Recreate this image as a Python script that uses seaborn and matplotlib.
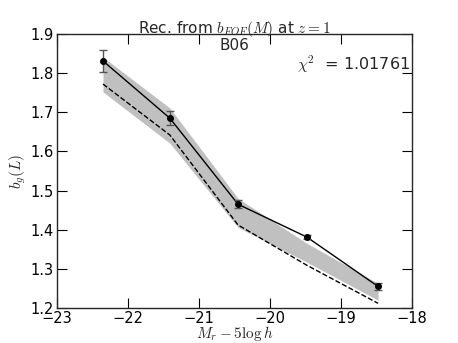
import numpy as np
import pandas as pd
import matplotlib
matplotlib.use('Agg')
import matplotlib.pyplot as plt
import seaborn as sns

# magnitude bins
mag = [-22.35, -21.41, -20.45, -19.48, -18.48]
# measured bias with errors
bias = [1.831, 1.685, 1.465, 1.381, 1.255]
bias_err = [0.027, 0.017, 0.010, 0.006, 0.008]
# reconstructed bias (dashed)
recon = [1.772, 1.642, 1.412, 1.309, 1.212]
# band edges
band_lo = [1.752, 1.621, 1.406, 1.317, 1.220]
band_hi = [1.841, 1.711, 1.480, 1.365, 1.263]

sns.set_style('ticks')
plt.rcParams['xtick.direction'] = 'in'
plt.rcParams['ytick.direction'] = 'in'
plt.rcParams['xtick.major.size'] = 7
plt.rcParams['ytick.major.size'] = 7
plt.rcParams['axes.linewidth'] = 1.0
plt.rcParams['mathtext.fontset'] = 'cm'

fig = plt.figure(figsize=(4.58, 3.43), dpi=100)
ax = fig.add_axes([0.124, 0.102, 0.776, 0.799])

df = pd.DataFrame({'mag': mag, 'bias': bias, 'recon': recon})

ax.fill_between(mag, band_lo, band_hi, color='#c0c0c0', lw=0)
sns.lineplot(data=df, x='mag', y='recon', ax=ax, color='black', lw=1, linestyle='--')
sns.lineplot(data=df, x='mag', y='bias', ax=ax, color='black', lw=1)
ax.errorbar(mag, bias, yerr=bias_err, fmt='o', color='black', ms=4,
            ecolor='#555555', capsize=3, elinewidth=1)

ax.set_xlim(-23, -18)
ax.set_ylim(1.2, 1.9)
ax.set_xticks([-23, -22, -21, -20, -19, -18])
ax.set_yticks([1.2, 1.3, 1.4, 1.5, 1.6, 1.7, 1.8, 1.9])
ax.tick_params(labelsize=10.5, top=True, right=True, colors='black', pad=2)
ax.set_xlabel(r'$M_r-5\log h$', fontsize=11, labelpad=-1)
ax.set_ylabel(r'$b_g(L)$', fontsize=11, labelpad=2)
ax.set_title(r'Rec. from $b_{FOF}(M)$ at $z=1$', fontsize=11, pad=1)
ax.text(0.5, 0.985, 'B06', transform=ax.transAxes, ha='center', va='top', fontsize=11)
ax.text(0.995, 0.93, r'$\chi^2$  = 1.01761', transform=ax.transAxes,
        ha='right', va='top', fontsize=11.5)

fig.savefig('out.png', dpi=100)
